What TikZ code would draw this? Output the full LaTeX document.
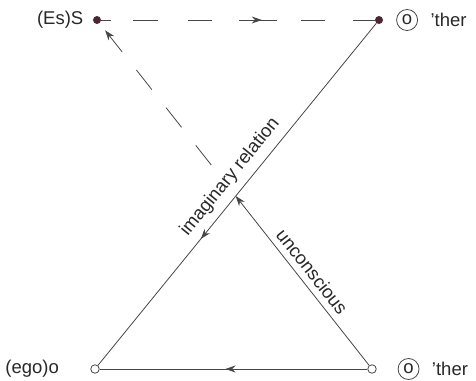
\documentclass[tikz,border=0pt]{standalone}
\usepackage{fontspec}
\setmainfont{Liberation Sans}
\definecolor{lkink}{RGB}{70,70,70}
\definecolor{lktext}{RGB}{40,40,40}
\definecolor{lkdot}{RGB}{75,40,50}
\usetikzlibrary{arrows.meta,positioning,decorations.markings}

\begin{document}
\begin{tikzpicture}[x=1pt,y=-1pt,
    every node/.style={font=\fontsize{18.5}{22}\selectfont,text=lktext},
    fulldot/.style={circle,fill=lkdot,inner sep=0pt,minimum size=8pt},
    opendot/.style={circle,draw=lkink,fill=white,line width=0.8pt,inner sep=0pt,minimum size=8.5pt},
    ringed/.style={circle,draw=lkink,line width=0.8pt,inner sep=0pt,minimum size=21pt},
    link/.style={draw=lkink,line width=0.8pt},
    midarrow/.style={postaction={decorate},decoration={markings,
      mark=at position #1 with {\arrow{Stealth[length=10pt,width=7pt]}}}}]
  \useasboundingbox (0,0) rectangle (476,380);

  % Four corners of the schema
  \node[fulldot] (subj) at (97,20) {};
  \node[fulldot] (other) at (379,20) {};
  \node[opendot] (ego) at (95,369) {};
  \node[opendot] (obj) at (372,369) {};
  \coordinate (cross) at (intersection of other--ego and obj--subj);

  % Corner labels
  \node[left=6pt of subj] (subjlbl) {(Es)S};
  \node[right=13pt of other,ringed] (otherring) {o};
  \node[right=9pt of otherring] (otherlbl) {'ther};
  \node[left=28pt of ego] (egolbl) {(ego)o};
  \node[right=21pt of obj,ringed] (objring) {o};
  \node[right=9pt of objring] (objlbl) {'ther};

  % Top: dashed, with arrow halfway
  \draw[link,midarrow=0.587,
        dash pattern=on 10pt off 22pt on 25pt off 30pt on 24pt off 27pt on 38pt off 24pt on 24pt off 28pt on 40pt]
    (subj) -- (other);

  % Imaginary relation and the bottom side
  \draw[link,midarrow=0.63] (other) -- (ego);
  \draw[link,midarrow=0.53] (obj) -- (ego);

  % Unconscious: solid up to the crossing, dashed on to S
  \draw[link,-{Stealth[length=10pt,width=7pt]}] (obj) -- (cross);
  \draw[link,{Stealth[length=10pt,width=7pt]}-,shorten <=9pt,
        dash pattern=on 21pt off 23pt on 25pt off 23pt on 25pt off 23pt on 25pt off 120pt]
    (subj) -- (cross);

  % Line labels
  \path (ego) -- (other) node[pos=0.52,sloped,above=4pt] (imaglbl) {imaginary relation};
  \path (subj) -- (obj) node[pos=0.75,sloped,above=3pt] (unclbl) {unconscious};
\end{tikzpicture}
\end{document}
